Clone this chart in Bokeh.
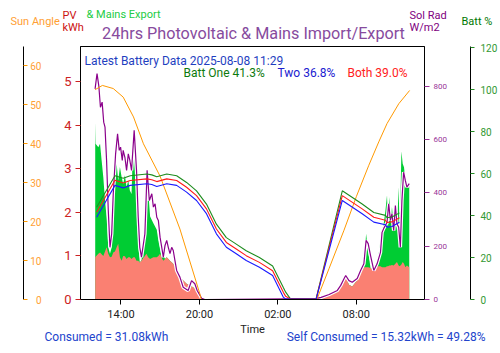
import pandas as pd
from bokeh.plotting import figure
from bokeh.layouts import column
from bokeh.models import (Range1d, LinearAxis, Label, FixedTicker,
                          DatetimeTickFormatter, ColumnDataSource)
from bokeh.core.properties import value
from bokeh.embed import file_html
from bokeh.resources import INLINE

# ---------------- data (hours since 2025-08-07 00:00) ----------------
pv_hours = [12.03, 12.06, 12.27, 12.40, 12.52, 12.65, 12.78, 12.90, 13.03, 13.16,
            13.29, 13.41, 13.54, 13.67, 13.79, 13.92, 14.05, 14.17, 14.30, 14.43,
            14.56, 14.68, 14.81, 14.94, 15.06, 15.19, 15.32, 15.44, 15.57, 15.70,
            15.83, 15.95, 16.08, 16.23, 16.48, 16.74, 16.86, 16.99, 17.12, 17.24,
            17.37, 17.50, 17.75, 18.00, 18.26, 18.51, 19.02, 19.52, 20.03, 20.16,
            28.90, 29.92, 30.55, 30.81, 31.06, 31.19, 31.44, 31.69, 32.07, 32.33,
            32.58, 32.75, 32.91, 33.09, 33.34, 33.59, 33.85, 33.97, 34.10, 34.23,
            34.35, 34.43, 34.53, 34.63, 34.73, 34.86, 34.99, 35.11, 35.24, 35.32,
            35.45, 35.55, 35.65, 35.75, 35.87, 36.05]
pv_kwh = [4.07, 3.57, 3.49, 3.57, 3.19, 2.80, 2.27, 1.89, 1.20, 1.05,
          1.20, 2.19, 2.96, 3.11, 2.73, 3.04, 2.81, 2.65, 2.85, 2.58,
          2.73, 2.50, 2.42, 3.72, 3.04, 2.27, 1.28, 0.85, 0.90, 1.20,
          2.00, 2.60, 2.50, 1.90, 1.75, 1.60, 1.35, 1.15, 0.95, 1.05,
          0.93, 0.97, 0.89, 0.82, 0.67, 0.51, 0.36, 0.28, 0.13, 0.00,
          0.00, 0.09, 0.17, 0.30, 0.40, 0.51, 0.34, 0.30, 0.44, 0.62,
          0.74, 1.51, 1.10, 0.72, 0.67, 0.78, 1.35, 1.58, 1.74, 2.04,
          2.39, 1.66, 2.35, 1.80, 2.12, 1.66, 2.04, 1.58, 2.58, 1.43,
          3.40, 3.11, 3.03, 2.73, 2.65, 2.65]
self_kwh = [0.97, 0.98, 1.05, 1.08, 1.04, 1.00, 1.10, 1.20, 1.05, 0.97,
            0.98, 1.08, 1.10, 1.20, 1.28, 0.97, 0.89, 1.00, 0.99, 0.93,
            0.97, 0.97, 0.93, 0.97, 0.97, 0.89, 0.89, 0.85, 0.89, 0.95,
            1.00, 1.05, 0.97, 0.93, 0.97, 0.97, 1.00, 1.05, 0.95, 0.89,
            0.93, 0.97, 0.89, 0.82, 0.67, 0.51, 0.36, 0.28, 0.13, 0.00,
            0.00, 0.09, 0.17, 0.30, 0.40, 0.51, 0.34, 0.30, 0.44, 0.62,
            0.74, 0.74, 0.74, 0.72, 0.67, 0.76, 0.76, 0.74, 0.74, 0.74,
            0.76, 0.76, 0.78, 0.78, 0.79, 0.78, 0.82, 0.86, 0.78, 0.76,
            0.80, 0.86, 0.82, 0.74, 0.78, 0.74]

sol_hours = [12.02, 12.17, 12.31, 12.43, 12.56, 12.68, 12.78, 12.90, 13.03, 13.16,
             13.29, 13.41, 13.59, 13.74, 13.87, 13.97, 14.10, 14.17, 14.30, 14.43,
             14.56, 14.68, 14.81, 15.01, 15.19, 15.32, 15.44, 15.57, 15.83, 16.00,
             16.17, 16.36, 16.48, 16.61, 16.74, 16.86, 16.99, 17.12, 17.24, 17.37,
             17.50, 17.62, 17.75, 17.88, 18.00, 18.13, 18.26, 18.38, 18.51, 18.76,
             19.14, 19.40, 19.65, 19.83, 19.98, 20.18, 20.41,
             28.90, 29.31, 29.92, 30.55, 30.81, 31.06, 31.19, 31.44, 31.69, 32.07,
             32.33, 32.58, 32.75, 32.91, 33.09, 33.34, 33.59, 33.85, 33.97, 34.10,
             34.35, 34.48, 34.61, 34.73, 34.86, 34.99, 35.11, 35.24, 35.37, 35.49,
             35.62, 35.75, 35.87, 36.05]
sol_wm2 = [791, 848, 800, 722, 741, 666, 647, 522, 334, 196,
           247, 397, 547, 622, 560, 572, 522, 560, 534, 485,
           547, 522, 485, 635, 485, 309, 196, 159, 247, 485,
           372, 397, 347, 359, 309, 297, 234, 196, 159, 203,
           222, 196, 172, 196, 184, 146, 109, 97, 84, 46,
           34, 71, 59, 34, 21, 4, 0,
           3, 8, 19, 34, 53, 78, 90, 71, 65, 79,
           109, 134, 222, 210, 165, 109, 134, 177, 252, 267,
           289, 359, 297, 322, 259, 353, 284, 272, 196, 372,
           478, 447, 422, 435]

sun_hours = [12.02, 12.58, 13.41, 14.17, 14.96, 15.72, 16.99, 18.51, 20.03, 20.14,
             28.98, 29.91, 31.06, 32.00, 32.96, 33.72, 34.35, 35.25, 36.08]
sun_deg = [53.9, 55.0, 54.2, 52.0, 46.9, 40.0, 31.7, 18.1, 1.5, 0.0,
           0.0, 7.9, 17.8, 26.4, 34.5, 40.5, 45.2, 50.3, 53.7]

batt_hours = [12.14, 13.54, 14.17, 14.71, 15.98, 16.36, 16.74, 17.50, 18.26, 19.02,
              19.78, 20.54, 21.30, 22.06, 22.82, 23.58, 24.59, 25.60, 26.42, 26.60,
              26.95, 28.93, 30.93, 32.45, 33.34, 34.23, 34.35, 34.73, 35.30]
batt_two = [39.2, 54.4, 53.2, 54.4, 55.2, 54.8, 53.9, 55.2, 54.4, 51.2,
            47.2, 40.9, 31.3, 24.9, 21.8, 18.6, 15.4, 11.4, 1.1, 0.2,
            0.2, 0.2, 47.2, 40.9, 36.9, 35.6, 34.5, 34.8, 36.8]
batt_both = [41.6, 56.8, 55.5, 56.7, 57.5, 57.1, 56.2, 57.5, 56.7, 53.5,
             49.5, 43.2, 33.6, 27.2, 24.1, 20.9, 17.7, 13.7, 3.4, 1.5,
             0.3, 0.3, 49.5, 43.2, 39.2, 37.8, 36.7, 37.0, 39.0]
batt_one = [44.0, 59.0, 57.8, 59.0, 59.8, 59.4, 58.5, 59.8, 59.0, 55.8,
            51.8, 45.5, 35.9, 29.5, 26.4, 23.2, 20.0, 16.0, 5.7, 3.5,
            0.4, 0.4, 51.8, 45.5, 41.5, 40.1, 39.0, 39.3, 41.3]

x_tick_hours = [14, 20, 26, 32]
pv_ticks = [0, 1, 2, 3, 4, 5]
sun_ticks = [0, 10, 20, 30, 40, 50, 60]
sol_ticks = [0, 200, 400, 600, 800]
batt_ticks = [0, 20, 40, 60, 80, 100, 120]

base = pd.Timestamp("2025-08-07 00:00")


def to_dt(hours):
    return base + pd.to_timedelta(pd.Series(hours, dtype=float), unit="h")


def to_ms(h):
    return (base + pd.Timedelta(hours=h)).value // 10**6


FONT = "Roboto"
W = 500


def text_strip(height):
    f = figure(width=W, height=height, output_backend="svg",
               toolbar_location=None, x_range=Range1d(0, W),
               y_range=Range1d(height, 0), min_border=0,
               frame_align=False)
    f.axis.visible = False
    f.grid.visible = False
    f.outline_line_color = None
    f.background_fill_color = "white"
    f.border_fill_color = "white"
    return f


def put(f, x, y, text, color, size="11px", align="left"):
    f.text(x=[x], y=[y], text=[text], text_color=color,
           text_font=value(FONT), text_font_size=size,
           text_align=align, text_baseline="middle")


# ---------------- header ----------------
head = text_strip(42)
put(head, 253, 33, "24hrs Photovoltaic & Mains Import/Export", "#874b9e",
    "16.2px", "center")
put(head, 10, 21, "Sun Angle", "#ffa033")
put(head, 62, 15, "PV", "#cc1111")
put(head, 62, 27, "kWh", "#cc1111")
put(head, 86, 14, "& Mains Export", "#22cc44")
put(head, 409, 15, "Sol Rad", "#800080")
put(head, 409, 27, "W/m2", "#800080")
put(head, 461, 21, "Batt %", "#007700")

# ---------------- main chart ----------------
p = figure(width=W, height=281, x_axis_type="datetime",
           output_backend="svg", toolbar_location=None,
           x_range=Range1d(to_ms(10.905), to_ms(37.217)),
           y_range=Range1d(0, 5.8),
           min_border_left=80, min_border_right=74,
           min_border_top=4, min_border_bottom=24, frame_align=False)
p.extra_y_ranges = {"sun": Range1d(0, 65), "sol": Range1d(0, 950),
                    "batt": Range1d(0, 120.6)}
p.xgrid.visible = False
p.ygrid.visible = False
p.outline_line_color = "black"
p.outline_line_width = 1
p.background_fill_color = "white"
p.border_fill_color = "white"

xa = p.xaxis[0]
xa.ticker = FixedTicker(ticks=[to_ms(h) for h in x_tick_hours])
fmt = "%H:%M"
xa.formatter = DatetimeTickFormatter(hours=fmt, hourmin=fmt, minutes=fmt,
                                     minsec=fmt, days=fmt, months=fmt,
                                     years=fmt)
xa.major_label_text_font = FONT
xa.major_label_text_font_size = "11px"
xa.major_label_text_color = "#222222"
xa.major_label_standoff = 3
xa.major_tick_out = 5
xa.major_tick_in = 0
xa.minor_tick_line_color = None
xa.axis_line_color = "black"

ya = p.yaxis[0]
ya.ticker = FixedTicker(ticks=pv_ticks)
ya.major_label_text_color = "#cc2222"
ya.major_label_text_font = FONT
ya.major_label_text_font_size = "13px"
ya.major_tick_line_color = "#cc2222"
ya.major_tick_out = 5
ya.major_tick_in = 0
ya.major_label_standoff = 4
ya.minor_tick_line_color = None
ya.axis_line_color = "black"
ya.axis_label = " "
ya.axis_label_text_font_size = "10px"
ya.axis_label_standoff = 24

sun_ax = LinearAxis(y_range_name="sun", ticker=FixedTicker(ticks=sun_ticks))
sun_ax.major_label_text_color = "#ffa033"
sun_ax.major_label_text_font = FONT
sun_ax.major_label_text_font_size = "10px"
sun_ax.major_tick_line_color = "#ff9900"
sun_ax.major_tick_out = 0
sun_ax.major_tick_in = 4
sun_ax.major_label_standoff = -18
sun_ax.minor_tick_line_color = None
sun_ax.axis_line_color = "black"
p.add_layout(sun_ax, "left")

sol_ax = LinearAxis(y_range_name="sol", ticker=FixedTicker(ticks=sol_ticks))
sol_ax.major_label_text_color = "#993399"
sol_ax.major_label_text_font = FONT
sol_ax.major_label_text_font_size = "8px"
sol_ax.major_tick_line_color = "#993399"
sol_ax.major_tick_out = 5
sol_ax.major_tick_in = 0
sol_ax.major_label_standoff = 4
sol_ax.minor_tick_line_color = None
sol_ax.axis_line_color = "black"
sol_ax.axis_label = " "
sol_ax.axis_label_text_font_size = "10px"
sol_ax.axis_label_standoff = 7
p.add_layout(sol_ax, "right")

batt_ax = LinearAxis(y_range_name="batt", ticker=FixedTicker(ticks=batt_ticks))
batt_ax.major_label_text_color = "#339933"
batt_ax.major_label_text_font = FONT
batt_ax.major_label_text_font_size = "10px"
batt_ax.major_tick_line_color = "#228b22"
batt_ax.major_tick_out = 4
batt_ax.major_tick_in = 0
batt_ax.major_label_standoff = 6
batt_ax.minor_tick_line_color = None
batt_ax.axis_line_color = "black"
p.add_layout(batt_ax, "right")

pv_src = ColumnDataSource(dict(t=to_dt(pv_hours), pv=pv_kwh, sc=self_kwh))
p.varea(x="t", y1=0, y2="pv", source=pv_src, fill_color="#00cc33")
p.varea(x="t", y1=0, y2="sc", source=pv_src, fill_color="#fa8072")

sol_src = ColumnDataSource(dict(t=to_dt(sol_hours), v=sol_wm2))
p.line(x="t", y="v", source=sol_src, y_range_name="sol",
       line_color="white", line_width=3.5)
p.line(x="t", y="v", source=sol_src, y_range_name="sol",
       line_color="#8b008b", line_width=1.2)

sun_src = ColumnDataSource(dict(t=to_dt(sun_hours), v=sun_deg))
p.line(x="t", y="v", source=sun_src, y_range_name="sun",
       line_color="#ff9900", line_width=1)

batt_src = ColumnDataSource(dict(t=to_dt(batt_hours), one=batt_one,
                                 two=batt_two, both=batt_both))
p.line(x="t", y="one", source=batt_src, y_range_name="batt",
       line_color="#1e8c1e", line_width=1.1)
p.line(x="t", y="both", source=batt_src, y_range_name="batt",
       line_color="#ff1a1a", line_width=1.1)
p.line(x="t", y="two", source=batt_src, y_range_name="batt",
       line_color="#1a1aff", line_width=1.1)


def add_label(x, y, text, color, size="12px"):
    p.add_layout(Label(x=x, y=y, x_units="screen", y_units="screen",
                       text=text, text_color=color, text_font=FONT,
                       text_font_size=size, text_align="left",
                       text_baseline="middle"))


# positions relative to the frame's bottom-left corner
add_label(4, 239, "Latest Battery Data 2025-08-08 11:29", "#1f3fbf")
add_label(103, 227, "Batt One 41.3%", "#0d7a0d")
add_label(197, 227, "Two 36.8%", "#2020d0")
add_label(267, 227, "Both 39.0%", "#ff2020")

# ---------------- footer ----------------
foot = text_strip(30)
put(foot, 252, 5.5, "Time", "#222222", "11px", "center")
put(foot, 44, 13, "Consumed = 31.08kWh", "#2244cc", "12px")
put(foot, 488, 13, "Self Consumed = 15.32kWh  = 49.28%", "#2244cc", "12px",
    "right")

layout = column(head, p, foot, spacing=0)
open("out.html", "w").write(file_html(layout, INLINE))
